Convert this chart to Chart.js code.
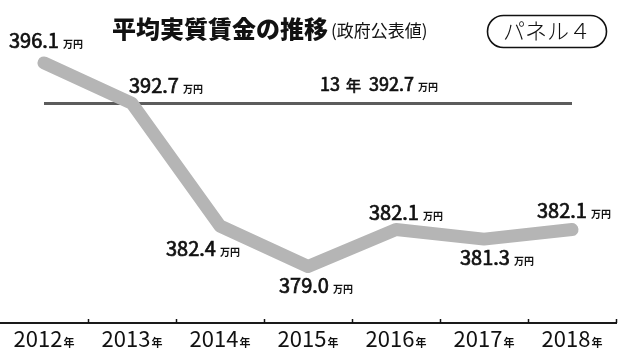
<!DOCTYPE html>
<html lang="ja">
<head>
<meta charset="utf-8">
<title>平均実質賃金の推移</title>
<script src="https://cdn.jsdelivr.net/npm/chart.js@4"></script>
<style>
  html, body { margin: 0; padding: 0; background: #fff; }
</style>
</head>
<body>
<canvas id="wageChart" width="620" height="354"></canvas>
<script>
const years = ['2012', '2013', '2014', '2015', '2016', '2017', '2018'];
const realWage = [396.1, 392.7, 382.4, 379.0, 382.1, 381.3, 382.1];
const baseYear = '13';
const baseWage = 392.7;
const unit = '万円';
const baseLine = years.map(() => baseWage);

// value label spot for each point: left edge of the number, baseline
const labelOffsets = [[-35, -15], [-3, -10], [-54, 30], [-29, 27], [-27, -10], [-24, 26], [-35, -12]];

const FONT = '"Noto Sans CJK JP", "Noto Sans", sans-serif';

// regular face with a thin outline, looks like a medium weight
function heavyText(ctx, text, x, y) {
    ctx.fillText(text, x, y);
    ctx.lineWidth = 0.7;
    ctx.strokeText(text, x, y);
}

function drawNumberWithUnit(ctx, num, x, y, bigSize, smallSize) {
    ctx.textAlign = 'left';
    ctx.font = `400 ${bigSize}px ${FONT}`;
    heavyText(ctx, num, x, y);
    const w = ctx.measureText(num).width;
    ctx.font = `700 ${smallSize}px ${FONT}`;
    ctx.fillText(unit, x + w + 4, y);
}

const overlayPlugin = {
    id: 'overlay',
    afterDraw(chart) {
        const ctx = chart.ctx;
        const xScale = chart.scales.x;
        const area = chart.chartArea;
        const points = chart.getDatasetMeta(0).data;
        const basePoints = chart.getDatasetMeta(1).data;

        ctx.save();
        ctx.fillStyle = '#111';
        ctx.strokeStyle = '#111';
        ctx.textBaseline = 'alphabetic';

        // value labels
        points.forEach((p, i) => {
            const [dx, dy] = labelOffsets[i];
            drawNumberWithUnit(ctx, realWage[i].toFixed(1), p.x + dx, p.y + dy, 20, 10);
        });

        // base line label
        let x = xScale.getPixelForValue(3) + 12;
        const y = basePoints[0].y - 12;
        ctx.font = `400 18px ${FONT}`;
        heavyText(ctx, baseYear, x, y);
        x += ctx.measureText(baseYear).width + 6;
        ctx.font = `400 15px ${FONT}`;
        heavyText(ctx, '年', x, y);
        x += ctx.measureText('年').width + 8;
        drawNumberWithUnit(ctx, baseWage.toFixed(1), x, y, 18, 10);

        // small upward ticks between years
        const band = xScale.getPixelForValue(1) - xScale.getPixelForValue(0);
        ctx.lineWidth = 1.5;
        years.forEach((yr, i) => {
            const bx = Math.round(xScale.getPixelForValue(i) + band / 2) + 0.5;
            ctx.beginPath();
            ctx.moveTo(bx, area.bottom);
            ctx.lineTo(bx, area.bottom - 4);
            ctx.stroke();
        });

        // year labels
        years.forEach((yr, i) => {
            const cx = xScale.getPixelForValue(i);
            ctx.font = `400 22px ${FONT}`;
            const w1 = ctx.measureText(yr).width;
            ctx.font = `700 11px ${FONT}`;
            const w2 = ctx.measureText('年').width;
            const start = cx - (w1 + w2 + 1) / 2;
            ctx.font = `400 22px ${FONT}`;
            ctx.fillText(yr, start, 347);
            ctx.font = `700 11px ${FONT}`;
            ctx.fillText('年', start + w1 + 1, 347);
        });

        // title
        ctx.textBaseline = 'middle';
        ctx.font = `900 24px ${FONT}`;
        const title = '平均実質賃金の推移';
        ctx.fillText(title, 112, 29);
        const tw = ctx.measureText(title).width;
        ctx.font = `400 17px ${FONT}`;
        ctx.fillText('(政府公表値)', 112 + tw + 3, 31);

        // panel badge
        ctx.lineWidth = 1.6;
        ctx.beginPath();
        ctx.roundRect(487.5, 15.5, 119, 32, 16);
        ctx.stroke();
        ctx.textAlign = 'center';
        ctx.font = `300 22px ${FONT}`;
        ctx.fillText('パネル４', 547, 31);

        ctx.restore();
    }
};

new Chart(document.getElementById('wageChart'), {
    type: 'line',
    data: {
        labels: years,
        datasets: [
            {
                data: realWage,
                borderColor: '#b5b5b5',
                borderWidth: 13,
                borderCapStyle: 'round',
                borderJoinStyle: 'round',
                pointRadius: 0,
                tension: 0
            },
            {
                data: baseLine,
                borderColor: '#5c5c5c',
                borderWidth: 3,
                pointRadius: 0
            }
        ]
    },
    options: {
        responsive: false,
        animation: false,
        devicePixelRatio: 1,
        layout: { padding: { left: -2, right: 4, top: 20, bottom: 31 } },
        plugins: {
            legend: { display: false },
            tooltip: { enabled: false }
        },
        scales: {
            x: {
                offset: true,
                ticks: { display: false },
                grid: { drawOnChartArea: false, drawTicks: false },
                border: { display: true, color: '#1a1a1a', width: 2 }
            },
            y: {
                display: false,
                min: 374.25,
                max: 399.71
            }
        }
    },
    plugins: [overlayPlugin]
});
</script>
</body>
</html>
